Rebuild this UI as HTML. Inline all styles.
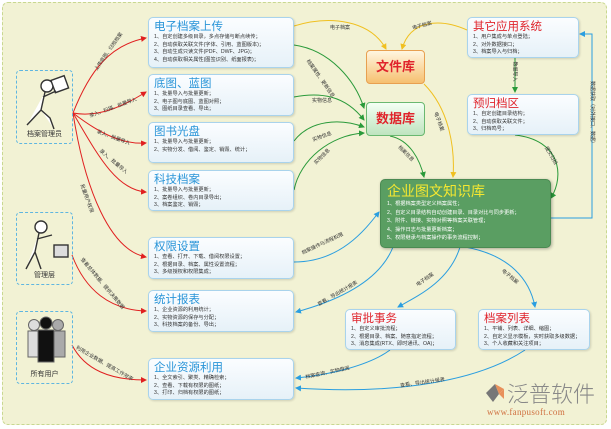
<!DOCTYPE html>
<html><head><meta charset="utf-8"><style>
body{margin:0;width:611px;height:429px;overflow:hidden;background:#fff;font-family:"Liberation Sans","Noto Sans CJK SC",sans-serif;}
#bg{position:absolute;left:2px;top:2px;width:603px;height:421px;background:#f2f2d4;border:1px dashed #c8d890;border-radius:6px;}
.b{position:absolute;background:linear-gradient(#fbfdff,#e6f1f8);border:1px solid #a9d3ec;border-radius:5px;box-shadow:1px 1px 2px rgba(0,0,0,.15);box-sizing:border-box;padding:2px 5px;}
.b h{display:block;color:#2a95d8;font-size:11.5px;font-weight:normal;line-height:14px;}
.b h.r{color:#e0242c;}
.b p{margin:0;font-size:5.2px;line-height:7.6px;color:#333;white-space:nowrap;}
.lb{position:absolute;font-size:5px;color:#333;white-space:nowrap;}
.pb{position:absolute;border:1px dashed #5fb6e0;border-radius:4px;box-sizing:border-box;}
.pb span{position:absolute;bottom:4px;left:0;right:0;text-align:center;font-size:7px;color:#333;}
</style></head><body>
<div id="bg"></div>
<svg width="611" height="429" style="position:absolute;left:0;top:0">
<defs>
<marker id="mr" markerWidth="6" markerHeight="6" refX="5" refY="3" orient="auto"><path d="M0,0L6,3L0,6z" fill="#e02020"/></marker>
<marker id="mg" markerWidth="6" markerHeight="6" refX="5" refY="3" orient="auto"><path d="M0,0L6,3L0,6z" fill="#2a9a3a"/></marker>
<marker id="my" markerWidth="6" markerHeight="6" refX="5" refY="3" orient="auto"><path d="M0,0L6,3L0,6z" fill="#f0c020"/></marker>
<marker id="mb" markerWidth="6" markerHeight="6" refX="5" refY="3" orient="auto"><path d="M0,0L6,3L0,6z" fill="#2a9ee0"/></marker>
</defs>
<g fill="none" stroke="#e02020" stroke-width="1">
<path d="M73,113 C90,70 110,45 146,38" marker-end="url(#mr)"/>
<path d="M73,113 C100,118 125,105 146,92" marker-end="url(#mr)"/>
<path d="M73,113 C95,130 120,145 146,143" marker-end="url(#mr)"/>
<path d="M73,113 C95,150 115,190 146,192" marker-end="url(#mr)"/>
<path d="M73,113 C85,190 110,250 146,257" marker-end="url(#mr)"/>
<path d="M72,255 C85,290 110,310 146,311" marker-end="url(#mr)"/>
<path d="M72,345 C85,370 110,380 146,380" marker-end="url(#mr)"/>
</g>
<g fill="none" stroke="#f0c020" stroke-width="1">
<path d="M294,26 C330,15 370,20 386,49" marker-end="url(#my)"/>
<path d="M467,30 C440,18 410,20 402,49" marker-end="url(#my)"/>
<path d="M424,84 C450,110 455,150 453,177" marker-end="url(#my)"/>
</g>
<g fill="none" stroke="#2a9a3a" stroke-width="1">
<path d="M294,45 C330,50 355,80 364,108" marker-end="url(#mg)"/>
<path d="M294,97 C320,92 345,95 364,120" marker-end="url(#mg)"/>
<path d="M294,141 C310,120 340,118 364,127" marker-end="url(#mg)"/>
<path d="M294,190 C300,160 330,135 364,133" marker-end="url(#mg)"/>
<path d="M390,136 C410,140 420,160 424,177" marker-end="url(#mg)"/>
<path d="M515,58 L515,92" marker-end="url(#mg)"/>
<path d="M515,135 C560,140 565,175 551,198" marker-end="url(#mg)"/>
</g>
<g fill="none" stroke="#2a9ee0" stroke-width="1">
<path d="M551,218 L592,218 L592,34 L580,34" marker-end="url(#mb)"/>
<path d="M294,262 C340,262 365,230 379,212" marker-end="url(#mb)"/>
<path d="M393,247 C380,280 340,300 296,312" marker-end="url(#mb)"/>
<path d="M460,247 C450,280 420,295 398,307" marker-end="url(#mb)"/>
<path d="M465,247 C510,255 530,280 535,307" marker-end="url(#mb)"/>
<path d="M390,350 C370,365 330,375 296,378" marker-end="url(#mb)"/>
<path d="M525,350 C480,380 400,395 296,388" marker-end="url(#mb)"/>
</g>
</svg>

<div class="pb" style="left:16px;top:70px;width:57px;height:74px">
<svg width="55" height="60" style="position:absolute;left:2px;top:2px"><g fill="#fff" stroke="#333" stroke-width="1.4"><circle cx="28" cy="13" r="6"/><rect x="34" y="5" width="14" height="13" transform="rotate(-20 40 12)"/><path d="M26,19 L22,37 L8,52 M22,37 L31,45 L35,56 M24,24 L37,18"/></g></svg>
<span>档案管理员</span></div>
<div class="pb" style="left:16px;top:212px;width:57px;height:73px">
<svg width="55" height="60" style="position:absolute;left:2px;top:2px"><g fill="#fff" stroke="#333" stroke-width="1.4"><circle cx="22" cy="12" r="6"/><path d="M20,18 L16,37 L7,54 M16,37 L22,54 M18,24 L33,20"/><rect x="35" y="30" width="14" height="12" fill="#ddd"/></g></svg>
<span>管理层</span></div>
<div class="pb" style="left:16px;top:311px;width:57px;height:73px">
<svg width="55" height="60" style="position:absolute;left:2px;top:1px"><g stroke="#666" stroke-width="1"><circle cx="15" cy="12" r="5.5" fill="#ddd"/><path d="M9,18h13v26h-13z" fill="#ddd"/><circle cx="39" cy="12" r="5.5" fill="#aaa"/><path d="M33,18h13v26h-13z" fill="#aaa"/><circle cx="27" cy="10" r="6" fill="#111"/><path d="M19,17h16v32h-16z" fill="#111"/></g></svg>
<span>所有用户</span></div>

<div class="b" style="left:148px;top:17px;width:146px;height:51px"><h>电子档案上传</h><p>1、自定创建多级目录，多点存储与断点续传；</p><p>2、自动获取关联文件(字体、引用、蓝图版本)；</p><p>3、自动生成只读文件(PDF、DWF、JPG)；</p><p>4、自动获取相关属性(图签识别、纸面报表)；</p></div>
<div class="b" style="left:148px;top:74px;width:146px;height:42px"><h>底图、蓝图</h><p>1、批量导入与批量更新；</p><p>2、电子图与底图、蓝图对照；</p><p>3、图纸目录查看、导出；</p></div>
<div class="b" style="left:148px;top:122px;width:146px;height:41px"><h>图书光盘</h><p>1、批量导入与批量更新；</p><p>2、实物分发、借阅、鉴定、销毁、统计；</p></div>
<div class="b" style="left:148px;top:170px;width:146px;height:41px"><h>科技档案</h><p>1、批量导入与批量更新；</p><p>2、案卷组织、卷内目录导出；</p><p>3、档案鉴定、销毁；</p></div>
<div class="b" style="left:148px;top:237px;width:146px;height:42px"><h>权限设置</h><p>1、查看、打开、下载、借阅权限设置；</p><p>2、根据目录、档案、属性设置流程；</p><p>3、多级授权和权限集成；</p></div>
<div class="b" style="left:148px;top:290px;width:146px;height:42px"><h>统计报表</h><p>1、企业资源的利用统计；</p><p>2、实物资源的保存与分配；</p><p>3、科技档案的备份、导出；</p></div>
<div class="b" style="left:148px;top:358px;width:146px;height:42px"><h>企业资源利用</h><p>1、全文索引、聚类、精确检索；</p><p>2、查看、下载有权限的图纸；</p><p>3、打印、归档有权限的图纸；</p></div>

<div style="position:absolute;left:366px;top:50px;width:59px;height:34px;box-sizing:border-box;border:1px solid #e8a050;border-radius:4px;background:linear-gradient(#fff6e0,#f6c070);color:#e0242c;font-size:13px;font-weight:bold;text-align:center;line-height:32px">文件库</div>
<div style="position:absolute;left:366px;top:102px;width:59px;height:34px;box-sizing:border-box;border:1px solid #6ab870;border-radius:4px;background:linear-gradient(#f4fff4,#bfe4bf);color:#e0242c;font-size:13px;font-weight:bold;text-align:center;line-height:32px">数据库</div>

<div class="b" style="left:467px;top:17px;width:112px;height:41px"><h class="r">其它应用系统</h><p>1、用户集成与单点登陆；</p><p>2、对外数据接口；</p><p>3、档案导入与归档；</p></div>
<div class="b" style="left:467px;top:94px;width:112px;height:41px"><h class="r">预归档区</h><p>1、自定创建目录结构；</p><p>2、自动获取关联文件；</p><p>3、归档鸣号；</p></div>

<div style="position:absolute;left:380px;top:179px;width:171px;height:69px;box-sizing:border-box;background:#5a9e62;border:1px solid #4a8a52;border-radius:5px;box-shadow:1px 1px 3px rgba(0,0,0,.3);padding:2px 6px">
<div style="color:#f5e830;font-size:14px;line-height:18px">企业图文知识库</div>
<div style="color:#fff;font-size:5.2px;line-height:8.5px;white-space:nowrap">1、根据档案类型定义档案属性；<br>2、自定义目录结构自动创建目录、目录对比与同步更新；<br>3、附件、链接、实物对照等档案关联管理；<br>4、操作日志与批量更新档案；<br>5、权限继承与档案操作的事务流程控制；</div></div>

<div class="b" style="left:345px;top:309px;width:111px;height:41px"><h class="r">审批事务</h><p>1、自定义审批流程；</p><p>2、根据目录、档案、随意指定流程；</p><p>3、消息集成(RTX、即时通讯、OA)；</p></div>
<div class="b" style="left:478px;top:309px;width:112px;height:41px"><h class="r">档案列表</h><p>1、平铺、列表、详细、缩图；</p><p>2、自定义显示模板，实时获取多级数据；</p><p>3、个人收藏和关注项目；</p></div>

<div class="lb" style="left:86px;top:48px;transform:rotate(-55deg)">上传底图、归档档案</div>
<div class="lb" style="left:88px;top:104px;transform:rotate(-20deg)">录入、扫描、批量导入</div>
<div class="lb" style="left:96px;top:134px;transform:rotate(20deg)">录入、批量导入</div>
<div class="lb" style="left:96px;top:158px;transform:rotate(40deg)">录入、批量导入</div>
<div class="lb" style="left:72px;top:195px;transform:rotate(70deg)">批量用户权限</div>
<div class="lb" style="left:70px;top:280px;transform:rotate(50deg)">查看总体数据、提供决策数据</div>
<div class="lb" style="left:72px;top:360px;transform:rotate(30deg)">利用企业数据、提高工作效率</div>
<div class="lb" style="left:330px;top:24px">电子档案</div>
<div class="lb" style="left:412px;top:22px;transform:rotate(-15deg)">电子档案</div>
<div class="lb" style="left:298px;top:75px;transform:rotate(55deg)">档案属性、更新信息</div>
<div class="lb" style="left:312px;top:97px">实物信息</div>
<div class="lb" style="left:312px;top:133px;transform:rotate(-20deg)">实物信息</div>
<div class="lb" style="left:312px;top:153px;transform:rotate(-45deg)">实物信息</div>
<div class="lb" style="left:429px;top:118px;transform:rotate(70deg)">电子档案</div>
<div class="lb" style="left:396px;top:150px;transform:rotate(45deg)">档案信息</div>
<div class="lb" style="left:505px;top:68px;transform:rotate(90deg)">数据导入</div>
<div class="lb" style="left:541px;top:152px;transform:rotate(60deg)">提交归档</div>
<div class="lb" style="left:560px;top:110px;transform:rotate(90deg)">数据获取（对外接口、数据）</div>
<div class="lb" style="left:300px;top:240px;transform:rotate(-25deg)">档案操作与流程权限</div>
<div class="lb" style="left:315px;top:290px;transform:rotate(-30deg)">查看、导出统计报表</div>
<div class="lb" style="left:415px;top:276px;transform:rotate(-35deg)">电子档案</div>
<div class="lb" style="left:500px;top:273px;transform:rotate(40deg)">电子档案</div>
<div class="lb" style="left:305px;top:369px;transform:rotate(-12deg)">档案查询、实物借阅</div>
<div class="lb" style="left:400px;top:379px;transform:rotate(-8deg)">查看、导出统计报表</div>

<div style="position:absolute;left:483px;top:378px;width:125px;height:46px">
<svg width="20" height="20" style="position:absolute;left:2px;top:5px"><path d="M10,1 L1,10 L8,19 L14,11z" fill="#777"/><path d="M10,1 L19,6 L14,11z" fill="#e8905a"/><path d="M14,11 L19,6 L19,16z" fill="#e8905a"/></svg>
<div style="position:absolute;left:24px;top:1px;font-size:22px;color:#888;line-height:28px;font-family:'Noto Sans CJK SC',sans-serif;font-weight:300">泛普软件</div>
<div style="position:absolute;left:4px;top:29px;font-size:9px;color:#d07040;font-family:'Liberation Serif',serif;letter-spacing:.3px">www.fanpusoft.com</div>
</div>
</body></html>
